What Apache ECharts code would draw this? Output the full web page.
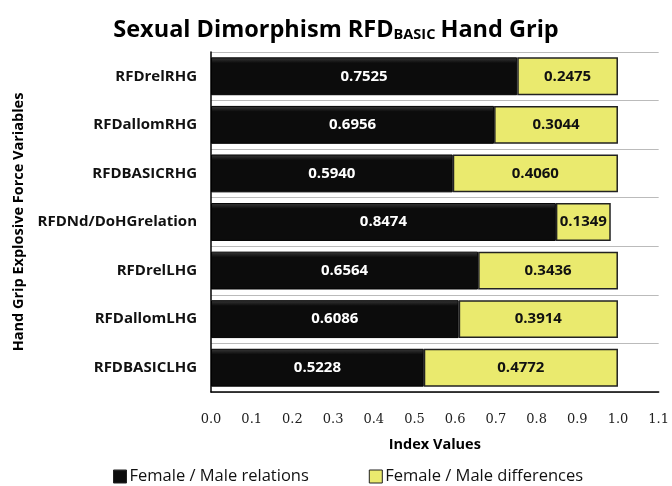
<!DOCTYPE html>
<html><head><meta charset="utf-8">
<script src="https://cdn.jsdelivr.net/npm/echarts@6/dist/echarts.min.js"></script>
<style>html,body{margin:0;padding:0;background:#fff}#c{width:672px;height:486px}</style>
</head><body><div id="c"></div>
<script>
var categories = ['RFDrelRHG','RFDallomRHG','RFDBASICRHG','RFDNd/DoHGrelation','RFDrelLHG','RFDallomLHG','RFDBASICLHG'];
var relations = [0.7525,0.6956,0.5940,0.8474,0.6564,0.6086,0.5228];
var differences = [0.2475,0.3044,0.4060,0.1349,0.3436,0.3914,0.4772];
var xTicks = ['0.0','0.1','0.2','0.3','0.4','0.5','0.6','0.7','0.8','0.9','1.0','1.1'];
var F = '"Open Sans", "Noto Sans", sans-serif';
var chart = echarts.init(document.getElementById('c'));
chart.setOption({
  animation:false,
  title:{text:'{a|Sexual Dimorphism RFD}{b|BASIC}{a|Hand Grip}',left:'center',top:5,
    textStyle:{rich:{a:{fontFamily:F,fontWeight:'bold',fontSize:23.5,color:'#000',verticalAlign:'bottom',lineHeight:32},
                     b:{fontFamily:F,fontWeight:'bold',fontSize:14.5,color:'#000',verticalAlign:'bottom',lineHeight:23,padding:[0,5,0,0]}}}},
  legend:{bottom:-4,left:108,itemGap:60,itemWidth:13,itemHeight:13,icon:'rect',
    textStyle:{fontFamily:F,fontSize:16.5,color:'#111',padding:[0,0,0,-2]},
    itemStyle:{borderColor:'#222',borderWidth:1},
    data:['Female / Male relations','Female / Male differences']},
  grid:{left:211,right:10,top:52,bottom:94},
  xAxis:{type:'value',min:0,max:1.1,interval:0.1,
    axisLine:{show:true,lineStyle:{color:'#000',width:1.5}},axisTick:{show:false},
    splitLine:{show:false},
    axisLabel:{margin:21,fontFamily:'"DejaVu Serif", serif',fontSize:13,color:'#222',
      formatter:function(v){var i=Math.round(v*10);return xTicks[i];}},
    name:'Index Values',nameLocation:'middle',nameGap:45,
    nameTextStyle:{fontFamily:F,fontWeight:'bold',fontSize:14.5,color:'#000'}},
  yAxis:{type:'category',data:categories,inverse:true,
    axisLine:{show:true,lineStyle:{color:'#000',width:1.5}},axisTick:{show:false},
    splitLine:{show:true,lineStyle:{color:'#bbb',width:1}},
    axisLabel:{margin:14,fontFamily:F,fontWeight:'bold',fontSize:15,color:'#111'},
    name:'Hand Grip Explosive Force Variables',nameLocation:'middle',nameGap:184,
    nameTextStyle:{fontFamily:F,fontWeight:'bold',fontSize:14.5,color:'#000'}},
  series:[
    {name:'Female / Male relations',type:'bar',stack:'t',barWidth:'78%',data:relations,
     itemStyle:{color:new echarts.graphic.LinearGradient(0,0,0,1,[{offset:0,color:'#3a3a3a'},{offset:0.15,color:'#0c0c0c'},{offset:1,color:'#0c0c0c'}]),borderColor:'#000',borderWidth:1},
     label:{show:true,position:'inside',fontFamily:F,fontWeight:'bold',fontSize:15,color:'#fff',
       formatter:function(p){return p.value.toFixed(4);}}},
    {name:'Female / Male differences',type:'bar',stack:'t',barWidth:'78%',data:differences,
     itemStyle:{color:'#eaea6e',borderColor:'#222',borderWidth:1.5},
     label:{show:true,position:'inside',fontFamily:F,fontWeight:'bold',fontSize:15,color:'#111',
       formatter:function(p){return p.value.toFixed(4);}}}
  ]
});
</script></body></html>
